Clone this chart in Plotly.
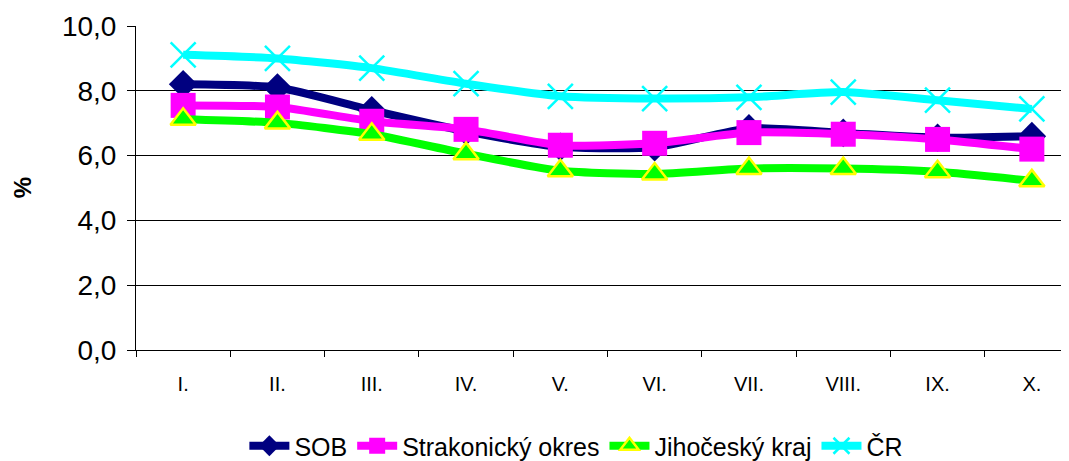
import plotly.graph_objects as go

# months (roman numerals) and unemployment rates in %
months = ["I.", "II.", "III.", "IV.", "V.", "VI.", "VII.", "VIII.", "IX.", "X."]
sob = [8.2, 8.1, 7.4, 6.75, 6.27, 6.26, 6.84, 6.7, 6.55, 6.6]
strakonice = [7.55, 7.5, 7.06, 6.81, 6.32, 6.38, 6.71, 6.66, 6.5, 6.2]
jihocesky = [7.12, 7.01, 6.66, 6.06, 5.53, 5.43, 5.6, 5.6, 5.5, 5.22]
cr = [9.11, 9.0, 8.7, 8.22, 7.83, 7.76, 7.8, 7.96, 7.71, 7.44]

font = "Liberation Sans, Arial, sans-serif"

fig = go.Figure()
fig.add_trace(go.Scatter(x=months, y=sob, name="SOB", mode="lines+markers",
                         line=dict(color="#000080", width=8, shape="spline", smoothing=0.6),
                         marker=dict(symbol="diamond", size=22, color="#000080")))
fig.add_trace(go.Scatter(x=months, y=strakonice, name="Strakonický okres", mode="lines+markers",
                         line=dict(color="#FF00FF", width=8, shape="spline", smoothing=0.6),
                         marker=dict(symbol="square", size=25, color="#FF00FF")))
fig.add_trace(go.Scatter(x=months, y=jihocesky, name="Jihočeský kraj", mode="lines+markers",
                         line=dict(color="#00FF00", width=8, shape="spline", smoothing=0.6),
                         marker=dict(symbol="triangle-up", size=22, color="#00FF00",
                                     line=dict(color="#FFFF00", width=2.5))))
fig.add_trace(go.Scatter(x=months, y=cr, name="ČR", mode="lines+markers",
                         line=dict(color="#00FFFF", width=8, shape="spline", smoothing=0.6),
                         marker=dict(symbol="x-thin-open", size=25, color="#00FFFF",
                                     line=dict(color="#00FFFF", width=2.5))))

# page body has an 8px margin, so the figure is shifted by 8px;
# the bottom 8px of the figure fall outside the window
fig.update_layout(
    width=1061, height=461,
    margin=dict(l=128, r=0, t=18, b=117),
    paper_bgcolor="white", plot_bgcolor="white",
    separators=",.",
    font=dict(family=font, color="black"),
    showlegend=True,
    legend=dict(orientation="h", x=0.472, xanchor="center", y=-0.297, yanchor="middle",
                font=dict(size=25), itemwidth=40, tracegroupgap=0),
    annotations=[dict(text="<b>%</b>", x=-0.122, y=0.5, xref="paper", yref="paper",
                      xanchor="center", yanchor="middle",
                      textangle=-90, showarrow=False, font=dict(size=24))],
)
fig.update_xaxes(range=[-0.5, 9.394], showline=True, linecolor="black", linewidth=1,
                 ticks="outside", ticklen=6, tickcolor="black", tickson="boundaries",
                 tickfont=dict(size=20), ticklabelstandoff=16, showgrid=False)
fig.update_yaxes(range=[0, 10], dtick=2, tickformat=".1f", showline=True, linecolor="black",
                 linewidth=1, ticks="outside", ticklen=8, tickcolor="black",
                 showgrid=True, gridcolor="black", gridwidth=1, zeroline=False,
                 tickfont=dict(size=28), ticklabelstandoff=5)

fig.write_html("out.html")
